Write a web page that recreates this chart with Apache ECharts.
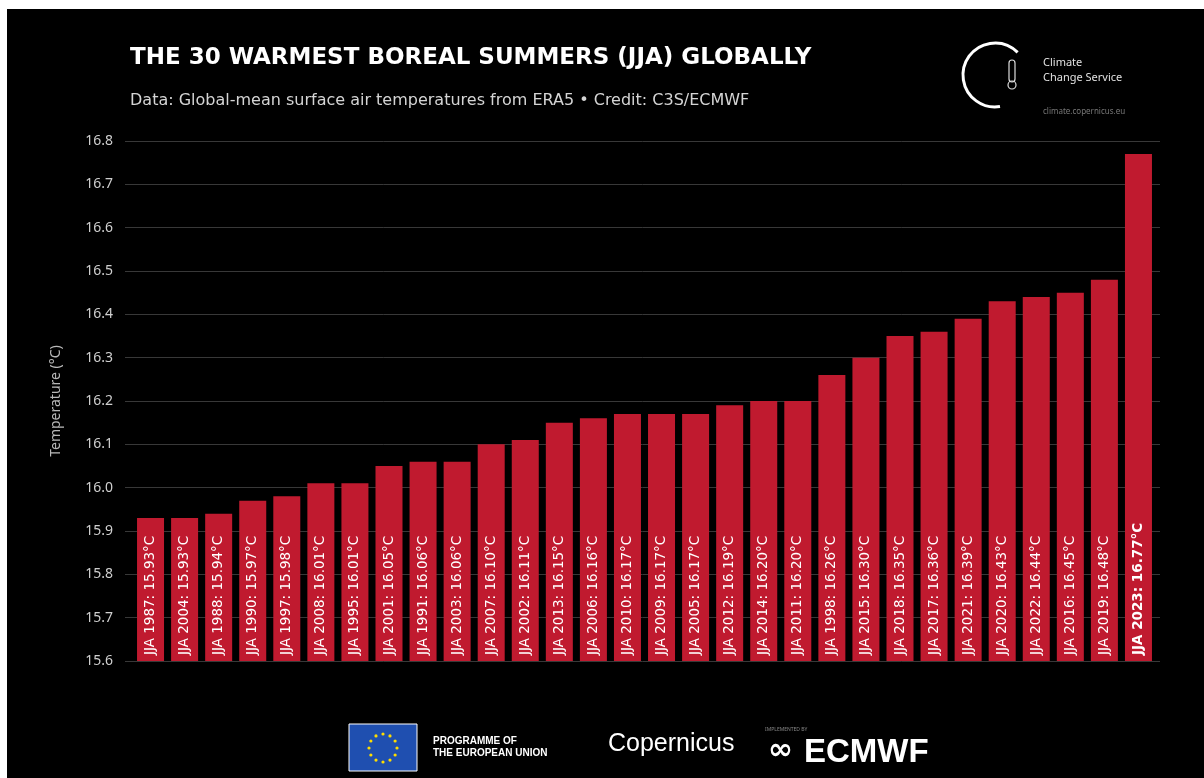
<!DOCTYPE html>
<html><head><meta charset="utf-8">
<script src="https://cdn.jsdelivr.net/npm/echarts@6/dist/echarts.min.js"></script>
<style>html,body{margin:0;padding:0;background:#fff;}#c{width:1204px;height:778px;}</style>
</head><body><div id="c"></div>
<script>
const years = ['1987','2004','1988','1990','1997','2008','1995','2001','1991','2003','2007','2002','2013','2006','2010','2009','2005','2012','2014','2011','1998','2015','2018','2017','2021','2020','2022','2016','2019','2023'];
const temps = [15.93,15.93,15.94,15.97,15.98,16.01,16.01,16.05,16.06,16.06,16.10,16.11,16.15,16.16,16.17,16.17,16.17,16.19,16.20,16.20,16.26,16.30,16.35,16.36,16.39,16.43,16.44,16.45,16.48,16.77];
const yTicks = ['15.6','15.7','15.8','15.9','16.0','16.1','16.2','16.3','16.4','16.5','16.6','16.7','16.8'];

const chart = echarts.init(document.getElementById('c'));
const data = temps.map((v, i) => ({
  value: v,
  label: i === temps.length - 1 ? {fontWeight: 'bold'} : {}
}));
const starPts = [];
for (let k = 0; k < 12; k++) {
  const a = k * Math.PI / 6;
  starPts.push({type: 'circle', shape: {cx: 383 + 14 * Math.cos(a), cy: 748 + 14 * Math.sin(a), r: 1.6}, style: {fill: '#ffdd00'}});
}
chart.setOption({
  backgroundColor: '#000',
  animation: false,
  grid: [
    {left: 125, right: 44, top: 141, bottom: 117},
    {left: 133.5, right: 48.5, top: 141, bottom: 117}
  ],
  xAxis: [
    {gridIndex: 0, type: 'category', data: years, show: false},
    {gridIndex: 1, type: 'category', data: years, show: false}
  ],
  yAxis: [
    {gridIndex: 0, type: 'value', min: 15.6, max: 16.8, interval: 0.1,
     name: 'Temperature (°C)', nameLocation: 'middle', nameGap: 62, nameRotate: 90,
     nameTextStyle: {color: '#b8b8b8', fontSize: 14, fontFamily: 'Noto Sans'},
     axisLine: {show: false}, axisTick: {show: false},
     axisLabel: {color: '#cfcfcf', fontSize: 14, margin: 12, fontFamily: 'Noto Sans',
       formatter: (v) => yTicks[Math.round((v - 15.6) * 10)] || ''},
     splitLine: {lineStyle: {color: '#383838', width: 1}}},
    {gridIndex: 1, type: 'value', min: 15.6, max: 16.8, interval: 0.1, show: false, splitLine: {show: false}}
  ],
  series: [{
    type: 'bar', xAxisIndex: 1, yAxisIndex: 1, data: data, barWidth: 27,
    itemStyle: {color: '#c01a2f'},
    label: {show: true, position: 'insideBottom', rotate: 90, align: 'left', verticalAlign: 'middle',
      distance: 6, color: '#ffffff', fontSize: 13.5, fontFamily: 'DejaVu Sans',
      formatter: (p) => 'JJA ' + years[p.dataIndex] + ': ' + temps[p.dataIndex].toFixed(2) + '°C'}
  }],
  graphic: [
    {type: 'rect', shape: {x: 0, y: 0, width: 1204, height: 9}, style: {fill: '#fff'}, z: 100},
    {type: 'rect', shape: {x: 0, y: 0, width: 7, height: 778}, style: {fill: '#fff'}, z: 100},
    {type: 'text', left: 130, top: 47, style: {text: 'THE 30 WARMEST BOREAL SUMMERS (JJA) GLOBALLY', fill: '#fff', font: 'bold 23px "DejaVu Sans"'}},
    {type: 'text', left: 130, top: 93, style: {text: 'Data: Global-mean surface air temperatures from ERA5 • Credit: C3S/ECMWF', fill: '#d4d4d4', font: '16px "DejaVu Sans"'}},
    {type: 'arc', shape: {cx: 995, cy: 75, r: 32, startAngle: Math.PI * 0.45, endAngle: Math.PI * 1.75}, style: {stroke: '#fff', lineWidth: 3, fill: null}},
    {type: 'rect', shape: {x: 1009, y: 60, width: 6, height: 22, r: 3}, style: {stroke: '#ddd', lineWidth: 1.2, fill: null}},
    {type: 'circle', shape: {cx: 1012, cy: 85, r: 4}, style: {stroke: '#ddd', lineWidth: 1.2, fill: null}},
    {type: 'text', left: 1043, top: 55, style: {text: 'Climate\nChange Service', fill: '#e0e0e0', font: '11px "Noto Sans"', lineHeight: 15}},
    {type: 'text', left: 1043, top: 108, style: {text: 'climate.copernicus.eu', fill: '#777', font: '8px "Noto Sans"'}},
    {type: 'rect', shape: {x: 349, y: 724, width: 68, height: 47}, style: {fill: '#1f4fb0', stroke: '#fff', lineWidth: 1}},
    ...starPts,
    {type: 'text', left: 433, top: 735, style: {text: 'PROGRAMME OF\nTHE EUROPEAN UNION', fill: '#fff', font: 'bold 10px "Liberation Sans"', lineHeight: 12}},
    {type: 'text', left: 608, top: 732, style: {text: 'Copernicus', fill: '#fff', font: '25px "Liberation Sans Narrow", "Liberation Sans"'}},
    {type: 'text', left: 765, top: 727, style: {text: 'IMPLEMENTED BY', fill: '#888', font: '5px "Noto Sans"'}},
    {type: 'text', left: 768, top: 736, style: {text: '∞', fill: '#fff', font: 'bold 30px "DejaVu Sans"'}},
    {type: 'text', left: 804, top: 736, style: {text: 'ECMWF', fill: '#fff', font: 'bold 33px "Liberation Sans"'}}
  ]
});
</script></body></html>
